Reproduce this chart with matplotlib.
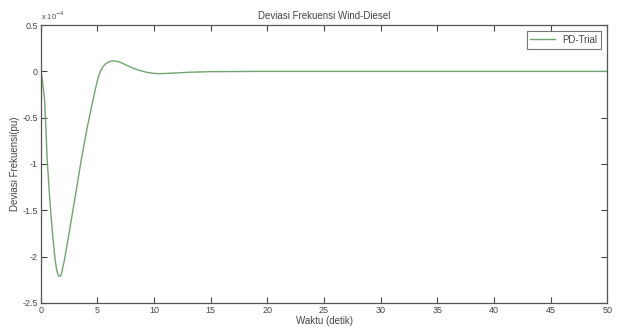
import numpy as np
import matplotlib.pyplot as plt

plt.rcParams['font.family'] = ['Liberation Sans', 'DejaVu Sans']

# waktu (detik) dan deviasi frekuensi (x 1e-4 pu)
t = [0, 0.1, 0.2, 0.33, 0.45, 0.56, 0.7, 0.86, 1.05, 1.26, 1.35, 1.45, 1.55, 1.65,
     1.75, 1.85, 1.95, 2.09, 2.45, 2.83, 3.2, 3.56, 4.1, 4.6, 4.85, 5.05, 5.25,
     5.45, 5.7, 6.0, 6.3, 6.65, 7.0, 7.5, 8.0, 8.5, 9.0, 9.5, 10.0, 10.5, 11.5,
     13.0, 15.0, 20.0, 30.0, 40.0, 50.0]
dev = [0, -0.06, -0.17, -0.31, -0.63, -0.96, -1.22, -1.5, -1.78, -2.03, -2.11,
       -2.17, -2.205, -2.215, -2.205, -2.17, -2.11, -2.03, -1.78, -1.5, -1.23,
       -0.96, -0.6, -0.31, -0.17, -0.07, 0.0, 0.045, 0.08, 0.103, 0.113, 0.11,
       0.098, 0.07, 0.042, 0.018, 0.0, -0.014, -0.022, -0.025, -0.02, -0.01,
       -0.003, 0.0, 0.0, 0.0, 0.0]

xticks = [0, 5, 10, 15, 20, 25, 30, 35, 40, 45, 50]
yticks = [-2.5, -2, -1.5, -1, -0.5, 0, 0.5]
ylabels = ['-2.5', '-2', '-1.5', '-1', '-0.5', '0', '0.5']

txt = '#444444'
fig = plt.figure(figsize=(6.19, 3.34), dpi=100)
ax = fig.add_axes([0.066, 0.093, 0.915, 0.832])
ax.plot(t, dev, color='#6ea66e', lw=1.0, label='PD-Trial')
ax.set_xlim(0, 50)
ax.set_ylim(-2.5, 0.5)
ax.set_xticks(xticks)
ax.set_yticks(yticks)
ax.set_yticklabels(ylabels)
ax.tick_params(direction='in', top=True, right=True, labelsize=6.5, colors=txt,
               length=4, width=0.8, pad=2)
for s in ax.spines.values():
    s.set_color('#555555')
    s.set_linewidth(0.9)
ax.set_title('Deviasi Frekuensi Wind-Diesel', fontsize=7, color=txt, pad=4)
ax.set_xlabel('Waktu (detik)', fontsize=7, color=txt, labelpad=1)
ax.set_ylabel('Deviasi Frekuensi(pu)', fontsize=7, color=txt, labelpad=2)
ax.text(0.0, 1.01, r'x 10$^{-4}$', transform=ax.transAxes, fontsize=5.5,
        color=txt, ha='left', va='bottom')
leg = ax.legend(loc='upper right', fontsize=7, frameon=True, fancybox=False,
                handlelength=2.5, borderaxespad=0.6)
leg.get_frame().set_edgecolor('#555555')
leg.get_frame().set_linewidth(0.8)
for tx in leg.get_texts():
    tx.set_color(txt)

fig.savefig('out.png', dpi=100)
